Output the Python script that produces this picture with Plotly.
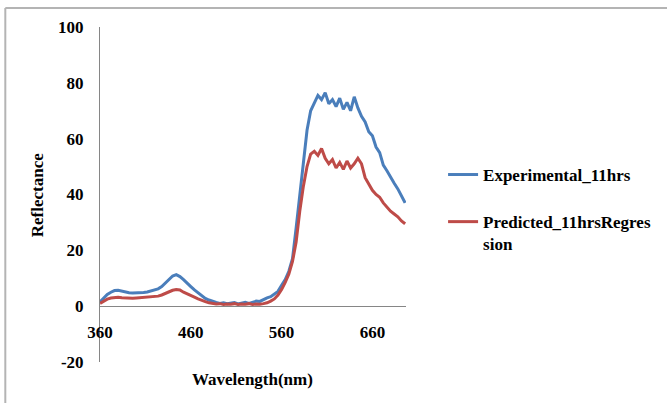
'''
Reflectance spectra: experimental vs regression prediction at 11 hrs
'''

import plotly.graph_objs as go


# Data (4 nm steps)

wavelength = list(range(360, 697, 4))

experimental = [
    1.5, 3.0, 4.2, 5.0, 5.6, 5.7, 5.4, 5.0, 4.8, 4.7,
    4.7, 4.8, 4.9, 5.1, 5.4, 5.7, 6.2, 7.0, 8.3, 9.6,
    10.8, 11.3, 10.6, 9.5, 8.4, 7.0, 5.8, 4.8, 3.6, 2.8,
    2.2, 1.7, 1.3, 1.0, 1.2, 0.9, 1.1, 1.3, 0.8, 1.2,
    1.4, 1.0, 1.5, 1.8, 1.7, 2.4, 3.0, 3.4, 4.5, 5.3,
    7.5, 9.5, 12.5, 17.0, 28.0, 40.0, 52.0, 63.0, 70.0, 73.0,
    75.5, 74.0, 76.5, 72.5, 74.0, 71.5, 74.5, 70.5, 73.0, 70.0,
    75.0, 71.0, 68.0, 66.0, 62.5, 61.0, 57.0, 55.0, 50.5, 48.5,
    46.0, 44.0, 42.0, 39.5, 37.0,
]

predicted = [
    1.0, 1.9, 2.5, 2.9, 3.1, 3.2, 3.0, 2.9, 2.8, 2.8,
    2.9, 3.0, 3.0, 3.1, 3.2, 3.3, 3.6, 4.0, 4.6, 5.2,
    5.7, 6.0, 5.8, 5.0, 4.3, 3.8, 3.2, 2.6, 2.0, 1.6,
    1.2, 1.0, 0.8, 0.9, 0.6, 0.8, 0.7, 0.9, 0.6, 0.8,
    0.7, 0.9, 0.6, 0.8, 0.7, 0.9, 1.2, 1.8, 2.6, 4.0,
    6.0, 8.5, 11.5, 16.0, 23.0, 34.0, 43.0, 50.0, 54.5, 55.5,
    54.0, 56.5, 53.0, 51.0, 52.5, 49.5, 51.5, 49.0, 52.0, 49.5,
    51.0, 53.0, 51.0, 46.0, 43.5, 41.5, 40.0, 39.0, 37.0, 35.5,
    34.0, 33.0, 32.0, 30.5, 29.5,
]

x_ticks = [360, 460, 560, 660]
y_ticks = [-20, 0, 20, 40, 60, 80, 100]
y_labels = ['-20', '0', '20', '40', '60', '80', '100']

font = dict(family='Liberation Serif, Times New Roman, serif', size=17,
            color='black', weight='bold')
axis_grey = '#868686'
frame_grey = '#b4b4b4'


def plot_spectra():
    trace1 = go.Scatter(
        x=wavelength,
        y=experimental,
        mode='lines',
        name='Experimental_11hrs',
        legendgroup='a',
        line=dict(color='#4A7EBB', width=3),
    )
    trace2 = go.Scatter(
        x=wavelength,
        y=predicted,
        mode='lines',
        name='Predicted_11hrsRegres<br>sion',
        legendgroup='b',
        line=dict(color='#BE4B48', width=3),
    )

    fig = go.Figure(data=[trace1, trace2])
    fig.update_layout(
        width=667, height=403,
        margin=dict(l=100, r=260, t=27, b=41),
        paper_bgcolor='white', plot_bgcolor='white',
        font=font,
        legend=dict(
            x=1.1175, y=0.612, xanchor='left', yanchor='top',
            valign='top', tracegroupgap=22,
            font=font,
            bgcolor='rgba(0,0,0,0)',
        ),
    )
    fig.update_xaxes(
        range=[360, 697], tickvals=x_ticks, showgrid=False, zeroline=False,
        showline=True, linecolor=axis_grey, linewidth=1,
        anchor='free', position=20 / 120, ticks='',
        ticklabelstandoff=10, automargin=False,
    )
    fig.update_yaxes(
        range=[-20, 100], tickvals=y_ticks, ticktext=y_labels,
        showgrid=False, zeroline=False,
        showline=True, linecolor=axis_grey, linewidth=1, ticks='',
        ticklabelstandoff=12, automargin=False,
    )

    fig.add_annotation(text='Reflectance', textangle=-90, xref='paper', yref='paper',
                       x=(37 - 100) / 307, y=(362 - 195) / 335, showarrow=False,
                       xanchor='center', yanchor='middle')
    fig.add_annotation(text='Wavelength(nm)', xref='paper', yref='paper',
                       x=(253 - 100) / 307, y=(362 - 379) / 335, showarrow=False,
                       xanchor='center', yanchor='middle')

    # outer chart frame (left and top edges)
    left = (5 - 100) / 307
    top = (362 - 8) / 335
    fig.add_shape(type='line', xref='paper', yref='paper', x0=left, x1=left,
                  y0=top, y1=-0.3, line=dict(color=frame_grey, width=2))
    fig.add_shape(type='line', xref='paper', yref='paper', x0=left, x1=2.0,
                  y0=top, y1=top, line=dict(color=frame_grey, width=2))

    return fig


fig = plot_spectra()
fig.write_html('out.html', config={'displayModeBar': False},
               post_script="document.body.style.margin = '0px';")
